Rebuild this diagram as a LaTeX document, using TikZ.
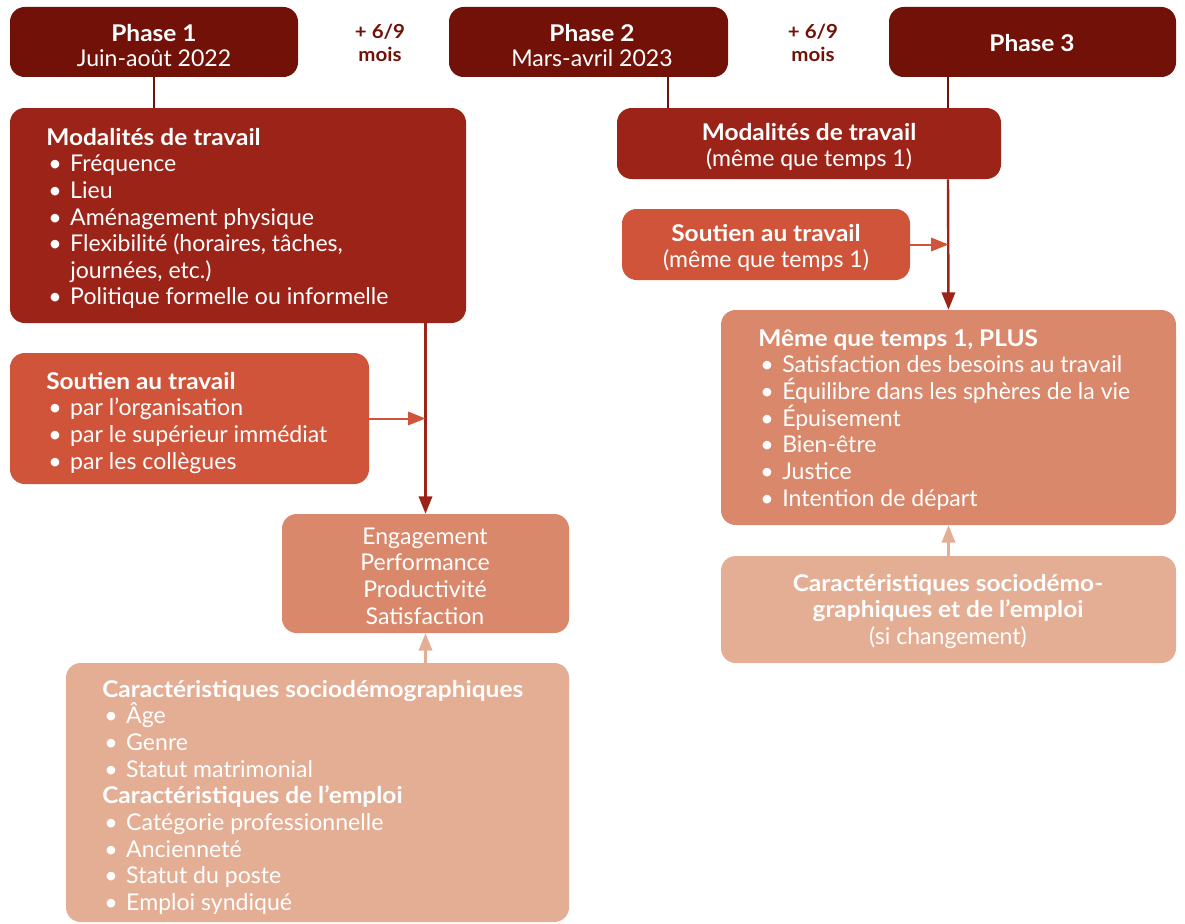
\documentclass[tikz,border=0pt]{standalone}
\usepackage{fontspec}
\setmainfont{Lato}[BoldFeatures={FakeStretch=1.06}]
\usetikzlibrary{arrows.meta,fit}
\definecolor{cPhase}{HTML}{711108}
\definecolor{cMod}{HTML}{9C2318}
\definecolor{cSout}{HTML}{CF543A}
\definecolor{cEng}{HTML}{D9886B}
\definecolor{cCar}{HTML}{E4AE95}
\newcommand\bul[1]{\makebox[18pt][l]{\hspace{1.5pt}•}#1}
\newcommand\llines[1]{\vtop{\baselineskip=20pt\lineskiplimit=-20pt\halign{##\hfil\cr#1\crcr}}}
\newcommand\clines[2][20pt]{\vtop{\baselineskip=#1\lineskiplimit=-20pt\halign{\hfil##\hfil\cr#2\crcr}}}
\begin{document}
\begin{tikzpicture}[x=0.75pt,y=-0.75pt,
  box/.style={draw=none, rounded corners=11pt, inner sep=0pt},
  txt/.style={inner sep=0pt, text=white, anchor=base, font=\fontsize{17.3}{20}\selectfont},
  lst/.style={txt, anchor=base west},
  gap/.style={text=cPhase, inner sep=0pt, anchor=base, font=\bfseries\fontsize{14.5}{17}\selectfont},
  link/.style={draw=cPhase, line width=1.5pt},
  mainarr/.style={draw=cMod, line width=1.8pt, -{Triangle[length=13pt,width=10pt]}},
  soutarr/.style={draw=cSout, line width=1.5pt, -{Triangle[length=13pt,width=10pt]}},
  cararr/.style={draw=cCar, line width=1.8pt, -{Triangle[length=13pt,width=10pt]}},
]
\useasboundingbox (0,0) rectangle (1185,924);

% phases
\node[box, fill=cPhase, fit={(10,7) (298,77)}] (p1) {};
\node[box, fill=cPhase, fit={(449,7) (728,77)}] (p2) {};
\node[box, fill=cPhase, fit={(889,7) (1176,77)}] (p3) {};
\node[txt] (p1t) at (154,42) {\clines[18.75pt]{\textbf{Phase 1}\cr Juin-août 2022}};
\node[txt] (p2t) at (592,42) {\clines[18.75pt]{\textbf{Phase 2}\cr Mars-avril 2023}};
\node[txt] (p3t) at (1032,52) {\textbf{Phase 3}};
\node[gap] (g1) at (380,39) {\clines[17pt]{+ 6/9\cr mois}};
\node[gap] (g2) at (813,39) {\clines[17pt]{+ 6/9\cr mois}};

% left column boxes
\node[box, fill=cMod, fit={(10,108) (466,323)}] (m1) {};
\node[box, fill=cSout, fit={(10,353) (369,484)}] (s1) {};
\node[box, fill=cEng, fit={(282,514) (569,633)}] (eng) {};
\node[box, fill=cCar, fit={(66,663) (569,922)}] (c1) {};

% right column boxes
\node[box, fill=cMod, fit={(617,108) (1001,179)}] (m2) {};
\node[box, fill=cSout, fit={(622,209) (910,280)}] (s2) {};
\node[box, fill=cEng, fit={(721,310) (1176,525)}] (meme) {};
\node[box, fill=cCar, fit={(721,556) (1176,663)}] (c2) {};

% centred texts
\node[txt] (engt) at (425,544) {\clines{Engagement\cr Performance\cr Productivité\cr Satisfaction}};
\node[txt] (m2t) at (809,140) {\clines{\textbf{Modalités de travail}\cr (même que temps 1)}};
\node[txt] (s2t) at (766,241) {\clines{\textbf{Soutien au travail}\cr (même que temps 1)}};
\node[txt] (c2t) at (948,591) {\clines{\textbf{Caractéristiques sociodémo-}\cr \textbf{graphiques et de l’emploi}\cr (si changement)}};

% list texts
\node[lst] (t1) at (46,145) {\llines{\textbf{Modalités de travail}\cr
  \bul{Fréquence}\cr
  \bul{Lieu}\cr
  \bul{Aménagement physique}\cr
  \bul{Flexibilité (horaires, tâches,}\cr
  \hspace*{18pt}journées, etc.)\cr
  \bul{Politique formelle ou informelle}}};
\node[lst] (t2) at (46,389) {\llines{\textbf{Soutien au travail}\cr
  \bul{par l’organisation}\cr
  \bul{par le supérieur immédiat}\cr
  \bul{par les collègues}}};
\node[lst] (t3) at (102,697) {\llines{\textbf{Caractéristiques sociodémographiques}\cr
  \bul{Âge}\cr
  \bul{Genre}\cr
  \bul{Statut matrimonial}\cr
  \textbf{Caractéristiques de l’emploi}\cr
  \bul{Catégorie professionnelle}\cr
  \bul{Ancienneté}\cr
  \bul{Statut du poste}\cr
  \bul{Emploi syndiqué}}};
\node[lst] (t4) at (758,346) {\llines{\textbf{Même que temps 1, PLUS}\cr
  \bul{Satisfaction des besoins au travail}\cr
  \bul{Équilibre dans les sphères de la vie}\cr
  \bul{Épuisement}\cr
  \bul{Bien-être}\cr
  \bul{Justice}\cr
  \bul{Intention de départ}}};

% connectors
\draw[link] (p1.south) -- (p1.south |- m1.north);
\draw[link] ([xshift=59.625pt]p2.south) -- ([xshift=-105.75pt]m2.north);
\draw[link] ([xshift=-63.375pt]p3.south) -- ([xshift=104.25pt]m2.north);
\draw[mainarr] (eng.north |- m1.south) -- (eng.north);
\draw[soutarr] (s1.east) -- (s1.east -| eng.north);
\draw[cararr] (c1.north -| eng.south) -- (eng.south);
\draw[mainarr] ([xshift=104.25pt]m2.south) -- (meme.north);
\draw[soutarr] (s2.east) -- (s2.east -| meme.north);
\draw[cararr] (c2.north) -- (meme.south);
\end{tikzpicture}
\end{document}
